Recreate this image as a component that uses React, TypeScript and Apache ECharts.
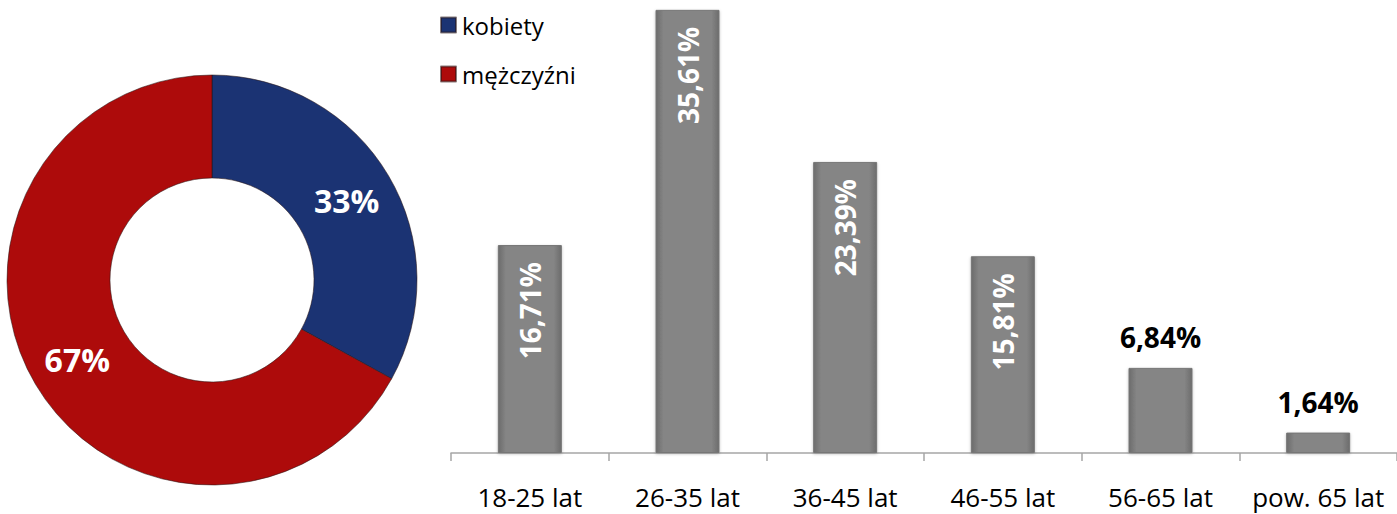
import React, { useEffect, useRef } from "react";
import * as echarts from "echarts";

const genderNames = ["kobiety", "mężczyźni"];
const genderValues = [33, 67];
const genderColors = ["#1b3373", "#ad0b0b"];

const ageCategories = ["18-25 lat", "26-35 lat", "36-45 lat", "46-55 lat", "56-65 lat", "pow. 65 lat"];
const ageValues = [16.71, 35.61, 23.39, 15.81, 6.84, 1.64];
const insideLabelThreshold = 10;

const FONT = "'Open Sans', 'DejaVu Sans', sans-serif";

function fmt(v: number): string {
  return v.toFixed(2).replace(".", ",") + "%";
}

export default function App() {
  const ref = useRef<HTMLDivElement>(null);
  useEffect(() => {
    if (!ref.current) return;
    const chart = echarts.init(ref.current, undefined, { renderer: "svg" });
    const barGradient = new echarts.graphic.LinearGradient(1, 0, 0, 0, [
      { offset: 0, color: "#6c6c6c" },
      { offset: 0.12, color: "#858585" },
      { offset: 0.88, color: "#858585" },
      { offset: 1, color: "#6c6c6c" },
    ]);
    chart.setOption({
      animation: false,
      backgroundColor: "#ffffff",
      textStyle: { fontFamily: FONT },
      legend: {
        orient: "vertical",
        left: 435,
        top: 8,
        icon: "rect",
        itemWidth: 15,
        itemHeight: 15,
        itemGap: 25,
        data: genderNames,
        textStyle: { fontSize: 24, color: "#000", fontFamily: FONT, padding: [0, 0, 0, 1] },
      },
      grid: { left: 451, right: 0, top: 5, bottom: 61, containLabel: false },
      xAxis: {
        type: "category",
        data: ageCategories,
        boundaryGap: true,
        axisLine: { lineStyle: { color: "#a6a6a6", width: 1.5 } },
        axisTick: { show: true, interval: 0, length: 8, lineStyle: { color: "#a6a6a6", width: 1.5 } },
        axisLabel: { interval: 0, fontSize: 26, color: "#000", margin: 31, fontFamily: FONT },
      },
      yAxis: {
        type: "value",
        min: 0,
        max: 36,
        show: false,
        splitLine: { show: false },
      },
      series: [
        {
          type: "pie",
          center: [212, 280],
          radius: [102, 205],
          startAngle: 90,
          clockwise: true,
          data: genderNames.map((n, i) => ({
            name: n,
            value: genderValues[i],
            itemStyle: { color: genderColors[i] },
          })),
          itemStyle: { borderColor: "rgba(40,20,20,0.55)", borderWidth: 1 },
          label: {
            show: true,
            position: "inside",
            formatter: "{c}%",
            color: "#fff",
            fontSize: 32,
            fontWeight: "bold",
            fontFamily: FONT,
          },
          labelLine: { show: false },
          emphasis: { disabled: true },
        },
        {
          type: "bar",
          data: ageValues.map((v) => ({
            value: v,
            label:
              v >= insideLabelThreshold
                ? {
                    show: true,
                    position: "insideTop",
                    rotate: 90,
                    align: "right",
                    verticalAlign: "middle",
                    distance: 17,
                    color: "#fff",
                  }
                : {
                    show: true,
                    position: "top",
                    distance: 17,
                    color: "#000",
                  },
          })),
          barWidth: 64,
          itemStyle: {
            color: barGradient,
            borderColor: "#767676",
            borderWidth: 1,
            shadowColor: "rgba(0,0,0,0.25)",
            shadowBlur: 3,
            shadowOffsetY: 1,
          },
          label: {
            fontSize: 28,
            fontWeight: "bold",
            fontFamily: FONT,
            formatter: (p: any) => fmt(p.value),
          },
          emphasis: { disabled: true },
        },
      ],
    });
    return () => chart.dispose();
  }, []);
  return (
    <div
      ref={ref}
      style={{ position: "absolute", left: 0, top: 0, width: 1397, height: 514 }}
    />
  );
}
